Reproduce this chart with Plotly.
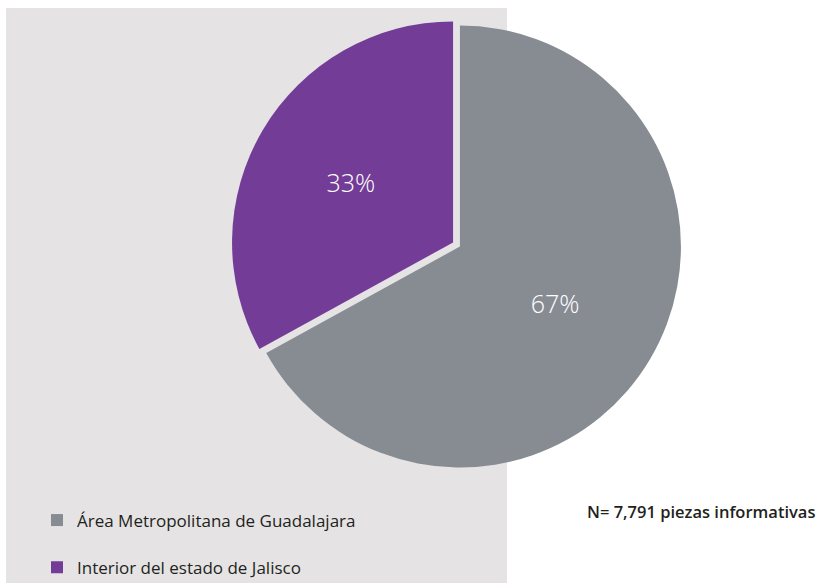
import plotly.graph_objects as go

W, H = 823, 583

categories = ["Área Metropolitana de Guadalajara", "Interior del estado de Jalisco"]
values = [67, 33]
colors = ["#878c93", "#733c96"]
note_text = "N= 7,791 piezas informativas"

cx, cy, half = 456.5, 244.5, 225.0

legend_names = [c + "<br> " for c in categories]

fig = go.Figure(
    go.Pie(
        labels=legend_names,
        values=values,
        marker=dict(colors=colors, line=dict(width=0)),
        sort=False,
        direction="clockwise",
        rotation=0,
        pull=[0.018, 0.018],
        textinfo="percent",
        texttemplate="%{percent:.0%}",
        textposition="inside",
        insidetextorientation="horizontal",
        insidetextfont=dict(color="white", size=25, family="Open Sans", weight=300),
        domain=dict(
            x=[(cx - half) / W, (cx + half) / W],
            y=[1 - (cy + half) / H, 1 - (cy - half) / H],
        ),
        hoverinfo="label+percent",
    )
)

fig.add_shape(
    type="rect", xref="paper", yref="paper",
    x0=6 / W, x1=507 / W, y0=0, y1=1 - 8 / H,
    fillcolor="#e5e3e4", line=dict(width=0), layer="below",
)

fig.add_annotation(
    text=note_text, xref="paper", yref="paper",
    x=585 / W, y=1 - 511.5 / H, xanchor="left", yanchor="middle",
    showarrow=False,
    font=dict(family="Open Sans", size=16.5, color="#231f20", weight=600),
)

fig.update_layout(
    width=W, height=H,
    margin=dict(l=0, r=0, t=0, b=0, autoexpand=False),
    paper_bgcolor="white",
    plot_bgcolor="white",
    showlegend=True,
    legend=dict(
        x=37 / W, y=1 - 502.5 / H, xanchor="left", yanchor="top",
        bgcolor="rgba(0,0,0,0)",
        font=dict(family="Open Sans", size=17, color="#231f20"),
        valign="top",
        traceorder="normal",
    ),
)

fig.write_html(
    "out.html",
    post_script="document.body.style.margin='0';document.body.style.overflow='hidden';",
    config={"displayModeBar": False},
)
